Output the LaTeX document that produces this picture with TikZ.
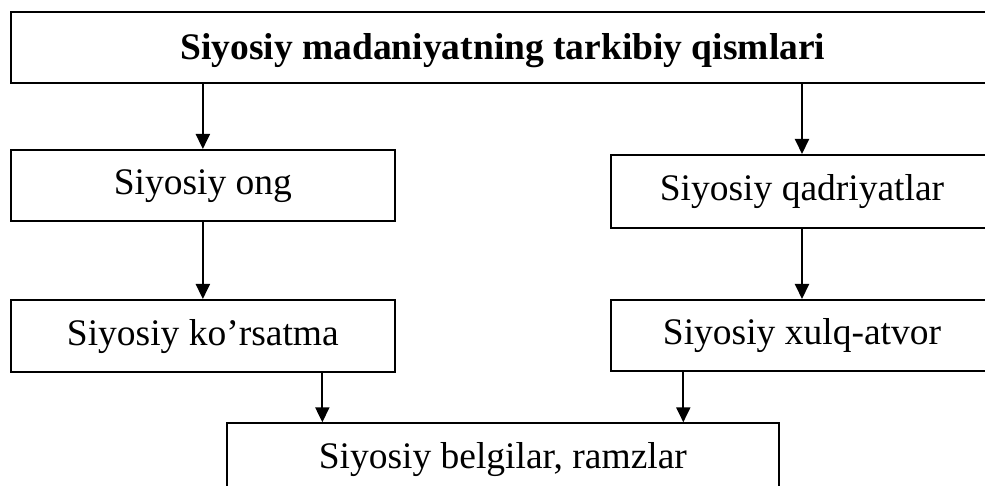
\documentclass[tikz,border=0pt]{standalone}
\usepackage{fontspec}
\setmainfont{Liberation Serif}
\usetikzlibrary{arrows.meta}
\begin{document}
\begin{tikzpicture}[x=1pt,y=-1pt,
  box/.style={draw, line width=2pt, inner sep=0pt, anchor=center,
    font=\fontsize{37.5}{40}\selectfont, text height=26pt, text depth=7.5pt},
  arr/.style={line width=2pt, -{Triangle[length=15pt,width=14pt]}}]
\useasboundingbox (0,0) rectangle (985,486);
\fill[white] (0,0) rectangle (985,486);
\clip (0,0) rectangle (985,486);
\node[box, minimum width=984.3pt, minimum height=71.3pt, text depth=2pt] (top) at (502.85,47.35) {\bfseries Siyosiy madaniyatning tarkibiy qismlari};
\node[box, minimum width=384.3pt, minimum height=71.5pt] (ong) at (202.85,185.75) {Siyosiy ong};
\node[box, minimum width=382pt, minimum height=72.7pt] (qad) at (802,191.35) {Siyosiy qadriyatlar};
\node[box, minimum width=384.3pt, minimum height=71.7pt] (kor) at (202.85,335.85) {Siyosiy ko’rsatma};
\node[box, minimum width=382pt, minimum height=71pt] (xul) at (802,335.5) {Siyosiy xulq-atvor};
\node[box, minimum width=552.3pt, minimum height=72pt] (bel) at (502.85,459.3) {Siyosiy belgilar, ramzlar};
\coordinate (k5) at ([xshift=119.5pt]kor.south);
\coordinate (x6) at ([xshift=-118.7pt]xul.south);
\draw[arr] (ong.north |- top.south) -- (ong.north);
\draw[arr] (qad.north |- top.south) -- (qad.north);
\draw[arr] (ong.south) -- (kor.north);
\draw[arr] (qad.south) -- (xul.north);
\draw[arr] (k5) -- (k5 |- bel.north);
\draw[arr] (x6) -- (x6 |- bel.north);
\end{tikzpicture}
\end{document}
